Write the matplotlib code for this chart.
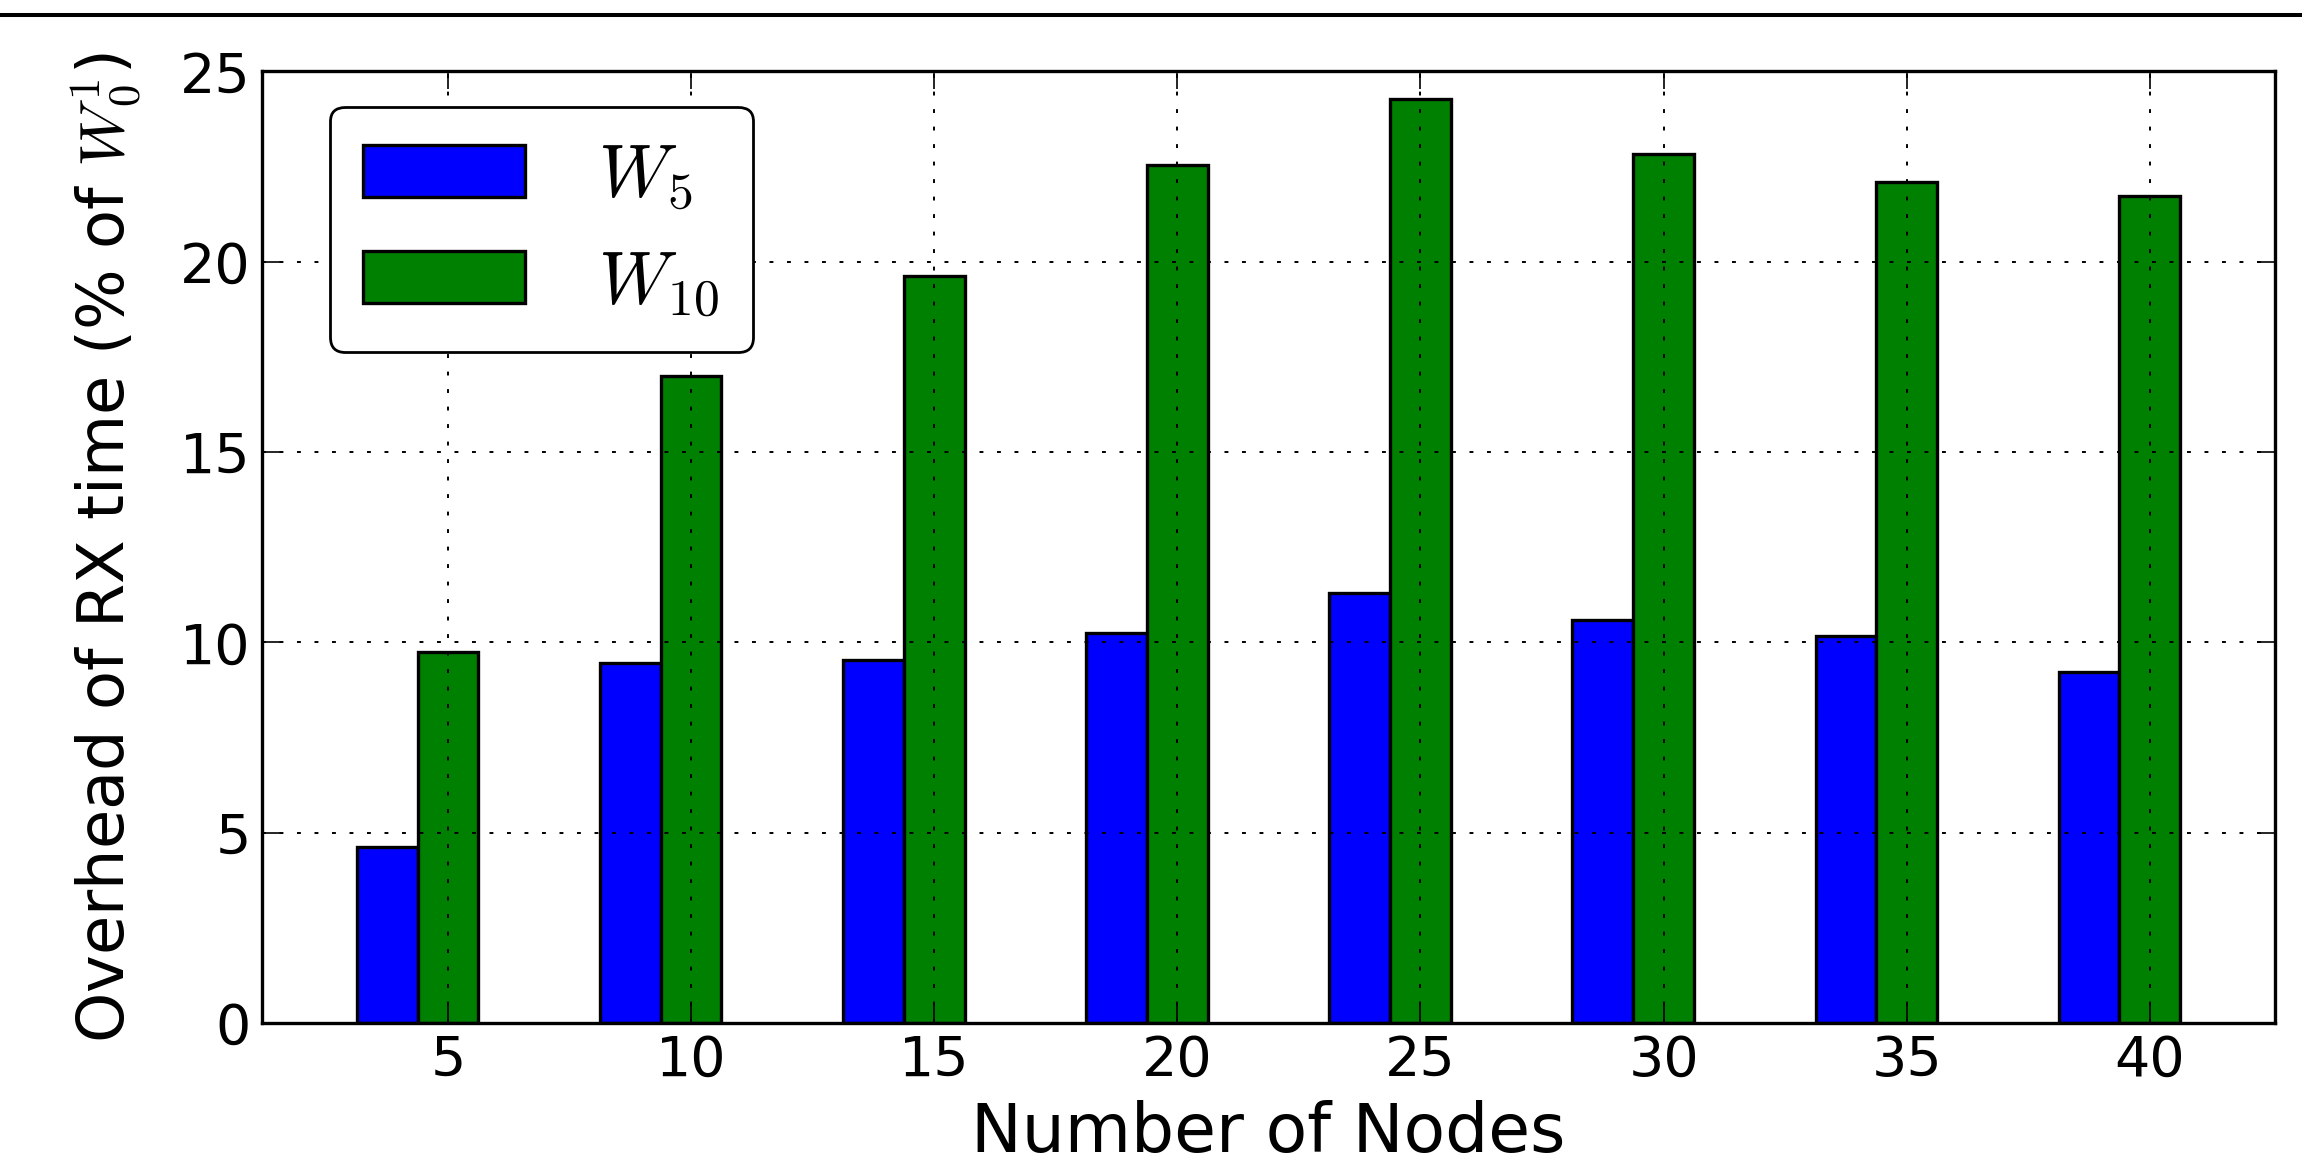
import numpy as np
import matplotlib
matplotlib.use('Agg')
import matplotlib.pyplot as plt
from matplotlib.lines import Line2D

# 数据：不同节点数下 RX 时间开销 (% of W_0^1)
nodes = [5, 10, 15, 20, 25, 30, 35, 40]
w5 = [4.63, 9.47, 9.53, 10.24, 11.29, 10.60, 10.18, 9.21]
w10 = [9.74, 17.00, 19.62, 22.55, 24.27, 22.82, 22.10, 21.74]
labels = ['$W_5$', '$W_{10}$']

plt.rcParams['font.family'] = ['DejaVu Sans']
plt.rcParams['mathtext.fontset'] = 'cm'

fig = plt.figure(figsize=(23.02, 11.70), dpi=100)
ax = fig.add_axes([0.1138, 0.1256, 0.8745, 0.8133])

ind = np.arange(len(nodes))
width = 0.25
ax.bar(ind, w5, width, align='edge', color='#0000ff', edgecolor='black',
       linewidth=2.4, label=labels[0], zorder=2)
ax.bar(ind + width, w10, width, align='edge', color='#008000', edgecolor='black',
       linewidth=2.4, label=labels[1], zorder=2)

ax.set_xlim(-0.39, 7.89)
ax.set_ylim(0, 25)
ax.set_xticks(ind + 1.5 * width)
ax.set_xticklabels([str(n) for n in nodes])
ax.set_yticks([0, 5, 10, 15, 20, 25])

ax.grid(True, color='black', linestyle=(0, (2, 7)), linewidth=1.4, zorder=3)
ax.set_axisbelow(False)

ax.tick_params(direction='in', top=True, right=True, length=13, width=1.2,
               labelsize=40, pad=8)
for s in ax.spines.values():
    s.set_linewidth(2.4)
    s.set_zorder(4)

ax.set_xlabel('Number of Nodes', fontsize=49)
ax.set_ylabel('Overhead of RX time (% of $W_0^1$)', fontsize=46)
ax.xaxis.set_label_coords(0.5, -0.081)
ax.yaxis.set_label_coords(-0.0585, 0.5)

leg = ax.legend(loc='upper left', bbox_to_anchor=(0.0337, 0.9632), borderaxespad=0,
                fontsize=53, handlelength=2.2, handleheight=0.7, handletextpad=1.0,
                borderpad=0.45, labelspacing=0.45, fancybox=True, framealpha=1)
leg.get_frame().set_edgecolor('black')
leg.get_frame().set_linewidth(2.0)
leg.set_zorder(5)

# 顶部横线
fig.add_artist(Line2D([0, 1], [1 - 15 / 1170, 1 - 15 / 1170], transform=fig.transFigure,
                      color='black', linewidth=2.9))

fig.savefig('out.png', dpi=100)
